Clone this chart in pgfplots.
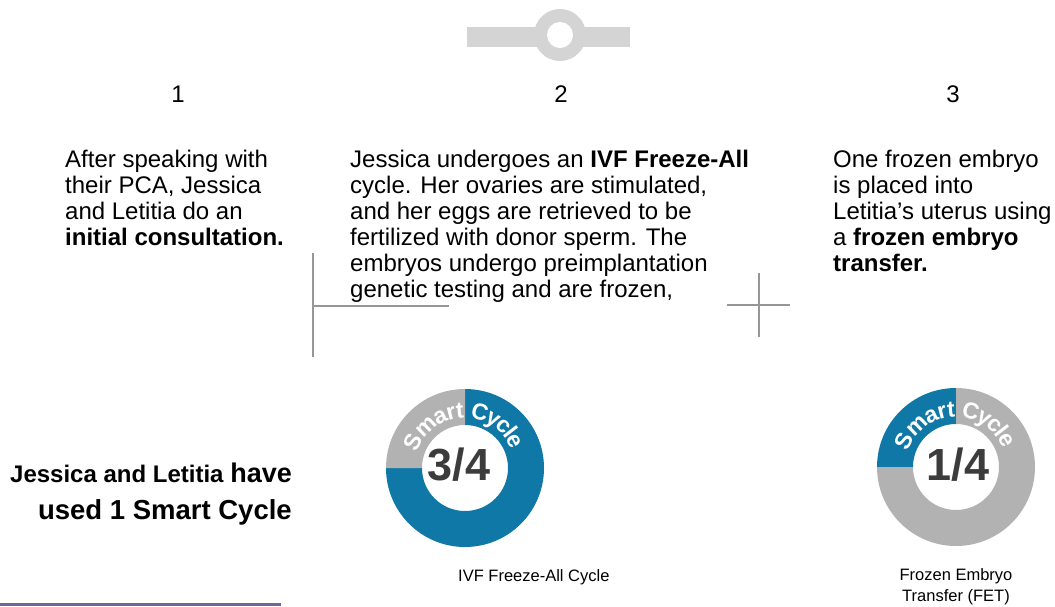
\documentclass[border=0pt]{standalone}
\usepackage{pgfplots}
\pgfplotsset{compat=1.18}
\usepackage{pgfplotstable}
\usepackage{fontspec}
\setmainfont{Liberation Sans}
\definecolor{scblue}{RGB}{16,120,166}
\definecolor{scgray}{RGB}{178,178,178}
\definecolor{lightbar}{RGB}{212,212,212}
\definecolor{linegray}{RGB}{150,150,150}
\definecolor{numgray}{RGB}{60,60,60}
\definecolor{purp}{RGB}{108,104,158}
\newcommand\body{\fontsize{24}{26}\selectfont}
\newcommand\arcfont{\bfseries\fontsize{23}{23}\selectfont}
% one letter of "Smart Cycle" on a ring: centre x, centre y, angle, letter
\newcommand\arcl[4]{\path[shift={(axis cs:#1,#2)}] (#3:50pt) node[rotate=#3-90, anchor=base, inner sep=0, font=\arcfont, text=white] {#4};}

% donut: centre (px), blue share of the ring, angle where the blue part starts
\pgfplotstableread{
donut cx  cy  share start
1     465 468 0.75  -180
2     956 467 0.25  90
}\donuts

\begin{document}
\begin{tikzpicture}
\pgfplotstablegetelem{0}{cx}\of\donuts \edef\cxA{\pgfplotsretval}
\pgfplotstablegetelem{0}{cy}\of\donuts \edef\cyA{\pgfplotsretval}
\pgfplotstablegetelem{0}{share}\of\donuts \edef\shA{\pgfplotsretval}
\pgfplotstablegetelem{0}{start}\of\donuts \edef\stA{\pgfplotsretval}
\pgfplotstablegetelem{1}{cx}\of\donuts \edef\cxB{\pgfplotsretval}
\pgfplotstablegetelem{1}{cy}\of\donuts \edef\cyB{\pgfplotsretval}
\pgfplotstablegetelem{1}{share}\of\donuts \edef\shB{\pgfplotsretval}
\pgfplotstablegetelem{1}{start}\of\donuts \edef\stB{\pgfplotsretval}
\pgfmathsetmacro\beA{\stA+\shA*360}\pgfmathsetmacro\geA{\stA+360}
\pgfmathsetmacro\beB{\stB+\shB*360}\pgfmathsetmacro\geB{\stB+360}
\begin{axis}[scale only axis, width=1055pt, height=606pt,
  xmin=0, xmax=1055, ymin=0, ymax=606, y dir=reverse,
  hide axis, clip=false]

% top connector
\fill[lightbar] (axis cs:467,27) rectangle (axis cs:630,47);
\fill[lightbar] (axis cs:560,35) circle[radius=26pt];
\fill[white] (axis cs:560,35) circle[radius=13pt];

% step numbers
\node[anchor=base, inner sep=0, font=\body] at (axis cs:178,102) {1};
\node[anchor=base, inner sep=0, font=\body] at (axis cs:561,102) {2};
\node[anchor=base, inner sep=0, font=\body] at (axis cs:953,102) {3};

% column 1
\node[anchor=base west, inner sep=0, font=\body] at (axis cs:65,167) {After speaking with};
\node[anchor=base west, inner sep=0, font=\body] at (axis cs:65,193) {their PCA, Jessica};
\node[anchor=base west, inner sep=0, font=\body] at (axis cs:65,219) {and Letitia do an};
\node[anchor=base west, inner sep=0, font=\body] at (axis cs:65,245) {\textbf{initial consultation.}};

% column 2
\node[anchor=base west, inner sep=0, font=\body] at (axis cs:350,167) {Jessica undergoes an \textbf{IVF Freeze-All}};
\node[anchor=base west, inner sep=0, font=\body] at (axis cs:350,193) {cycle. Her ovaries are stimulated,};
\node[anchor=base west, inner sep=0, font=\body] at (axis cs:350,219) {and her eggs are retrieved to be};
\node[anchor=base west, inner sep=0, font=\body] at (axis cs:350,245) {fertilized with donor sperm. The};
\node[anchor=base west, inner sep=0, font=\body] at (axis cs:350,271) {embryos undergo preimplantation};
\node[anchor=base west, inner sep=0, font=\body] at (axis cs:350,297) {genetic testing and are frozen,};

% column 3
\node[anchor=base west, inner sep=0, font=\body] at (axis cs:833,167) {One frozen embryo};
\node[anchor=base west, inner sep=0, font=\body] at (axis cs:833,193) {is placed into};
\node[anchor=base west, inner sep=0, font=\body] at (axis cs:833,219) {Letitia's uterus using};
\node[anchor=base west, inner sep=0, font=\body] at (axis cs:833,245) {a \textbf{frozen embryo}};
\node[anchor=base west, inner sep=0, font=\body] at (axis cs:833,271) {\textbf{transfer.}};

% crosshairs
\draw[linegray, line width=1.5pt] (axis cs:313,253) -- (axis cs:313,357);
\draw[linegray, line width=1.5pt] (axis cs:313,306) -- (axis cs:449,306);
\draw[linegray, line width=1.5pt] (axis cs:759,273) -- (axis cs:759,337);
\draw[linegray, line width=1.5pt] (axis cs:727,305) -- (axis cs:790,305);

% left summary
\node[anchor=base east, inner sep=0] at (axis cs:292,482) {\bfseries\fontsize{24}{24}\selectfont Jessica and Letitia \fontsize{27}{27}\selectfont have};
\node[anchor=base east, inner sep=0] at (axis cs:292,519) {\bfseries\fontsize{27.5}{27.5}\selectfont used 1 Smart Cycle};

% donut 1
\fill[scblue, shift={(axis cs:\cxA,\cyA)}] (\stA:79pt) arc[start angle=\stA, end angle=\beA, radius=79pt] -- (\beA:43pt) arc[start angle=\beA, end angle=\stA, radius=43pt] -- cycle;
\fill[scgray, shift={(axis cs:\cxA,\cyA)}] (\beA:79pt) arc[start angle=\beA, end angle=\geA, radius=79pt] -- (\geA:43pt) arc[start angle=\geA, end angle=\beA, radius=43pt] -- cycle;
\arcl{\cxA}{\cyA}{153}{S}\arcl{\cxA}{\cyA}{133.7}{m}\arcl{\cxA}{\cyA}{115.8}{a}\arcl{\cxA}{\cyA}{104.1}{r}\arcl{\cxA}{\cyA}{95.1}{t}
\arcl{\cxA}{\cyA}{75}{C}\arcl{\cxA}{\cyA}{60.3}{y}\arcl{\cxA}{\cyA}{47.5}{c}\arcl{\cxA}{\cyA}{37.9}{l}\arcl{\cxA}{\cyA}{28.3}{e}
\node[anchor=base, inner sep=0, text=numgray, font=\bfseries\fontsize{45}{45}\selectfont] at (axis cs:459,480) {3/4};
\node[anchor=base west, inner sep=0, font=\fontsize{16.5}{20}\selectfont] at (axis cs:458,581) {IVF Freeze-All Cycle};

% donut 2
\fill[scblue, shift={(axis cs:\cxB,\cyB)}] (\stB:79pt) arc[start angle=\stB, end angle=\beB, radius=79pt] -- (\beB:43pt) arc[start angle=\beB, end angle=\stB, radius=43pt] -- cycle;
\fill[scgray, shift={(axis cs:\cxB,\cyB)}] (\beB:79pt) arc[start angle=\beB, end angle=\geB, radius=79pt] -- (\geB:43pt) arc[start angle=\geB, end angle=\beB, radius=43pt] -- cycle;
\arcl{\cxB}{\cyB}{153}{S}\arcl{\cxB}{\cyB}{133.7}{m}\arcl{\cxB}{\cyB}{115.8}{a}\arcl{\cxB}{\cyB}{104.1}{r}\arcl{\cxB}{\cyB}{95.1}{t}
\arcl{\cxB}{\cyB}{75}{C}\arcl{\cxB}{\cyB}{60.3}{y}\arcl{\cxB}{\cyB}{47.5}{c}\arcl{\cxB}{\cyB}{37.9}{l}\arcl{\cxB}{\cyB}{28.3}{e}
\node[anchor=base, inner sep=0, text=numgray, font=\bfseries\fontsize{45}{45}\selectfont] at (axis cs:958,480) {1/4};
\node[anchor=base, inner sep=0, font=\fontsize{16.5}{20}\selectfont] at (axis cs:956,580) {Frozen Embryo};
\node[anchor=base, inner sep=0, font=\fontsize{16.5}{20}\selectfont] at (axis cs:956,601) {Transfer (FET)};

% bottom rule
\fill[purp] (axis cs:0,603) rectangle (axis cs:281,606);
\end{axis}
\pgfresetboundingbox
\path[use as bounding box] (current axis.south west) rectangle (current axis.north east);
\end{tikzpicture}
\end{document}
